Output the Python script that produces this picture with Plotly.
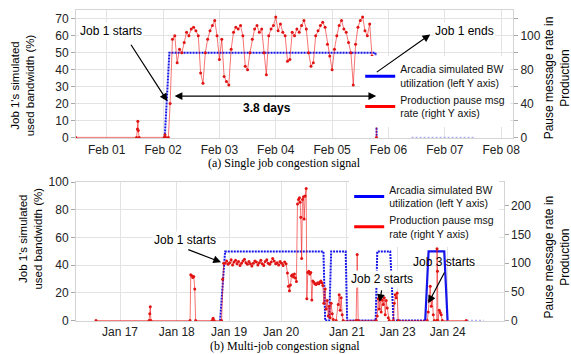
import numpy as np
import plotly.graph_objects as go

FONT = "Liberation Sans, Arial, sans-serif"
SERIF = "Liberation Serif, Times New Roman, serif"

# ---------------- Panel (a): single job (x = day of February) ----------------
a_tick_vals = [1, 2, 3, 4, 5, 6, 7, 8]
a_tick_text = ["Feb 01", "Feb 02", "Feb 03", "Feb 04", "Feb 05", "Feb 06", "Feb 07", "Feb 08"]
a_left_ticks = [0, 10, 20, 30, 40, 50, 60, 70]
a_right_text = ["0", "", "40", "", "80", "", "100", ""]

# production pause message rate (drawn against the left-axis scale)
a_red_pre_x = [0.45, 1.53, 1.545, 1.553, 1.56, 1.575, 2.02, 2.035, 2.05, 2.094]
a_red_pre_y = [0, 0, 5, 9.5, 4, 0, 0, 1.5, 0, 0]
a_red_start = 2.125  # Feb 02 03:00, hourly samples
a_red_hourly = [20, 58, 60, 44, 52, 50, 56, 62, 60, 64, 65, 63, 60, 38, 32, 50, 58, 63, 66, 69,
                60, 46, 58, 36, 33, 31, 52, 62, 65, 64, 66, 60, 42, 40, 50, 58, 64, 66, 62, 64,
                50, 37, 60, 64, 66, 71, 63, 67, 62, 60, 45, 46, 62, 60, 64, 62, 66, 69, 64, 50,
                42, 44, 60, 63, 66, 68, 65, 55, 48, 40, 52, 60, 66, 69, 64, 62, 56, 50, 31, 55,
                65, 69, 71, 63, 60, 67, 48, 38]
a_red_tail_x = [5.78, 5.787]
a_red_tail_y = [21, 0]

# Arcadia simulated BW utilization (%)
a_blue_x = [2.03, 2.066, 2.112, 5.77, 5.778, 5.79]
a_blue_y = [0, 21, 50, 50, 43, 0]
a_blue_idle_x = [6.41, 7.55]
a_blue_idle_y = [0, 0]

# ---------------- Panel (b): multi-job (x = chart day position) ----------------
b_tick_vals = [0, 1.031, 1.982, 2.927, 4.122, 5.045, 5.955]
b_tick_text = ["Jan 17", "Jan 18", "Jan 19", "Jan 20", "Jan 21", "Jan 23", "Jan 24"]
b_left_ticks = [0, 20, 40, 60, 80, 100]
b_right_ticks = [0, 50, 100, 150, 200]

b_red_x = [-0.436, 0.527, 0.54, 0.549, 0.56, 1.273, 1.285, 1.304, 1.322, 1.34, 1.358, 1.373,
           1.673, 1.691, 1.709, 1.845, 1.864, 1.882,
           1.91, 1.937, 1.964, 1.991, 2.018, 2.045, 2.072, 2.099, 2.126, 2.153, 2.18, 2.207,
           2.234, 2.261, 2.288, 2.315, 2.342, 2.369, 2.396, 2.423, 2.45, 2.477, 2.504, 2.531,
           2.558, 2.585, 2.612, 2.639, 2.666, 2.693, 2.72, 2.747, 2.774, 2.801, 2.828, 2.855,
           2.882, 2.909, 2.936, 2.963, 2.99, 3.017,
           3.042, 3.06, 3.078, 3.096, 3.115, 3.133, 3.151, 3.169, 3.187, 3.205,
           3.224, 3.242, 3.26, 3.273, 3.285, 3.3, 3.315, 3.333, 3.345, 3.364, 3.382, 3.394,
           3.412, 3.43, 3.448, 3.466, 3.485, 3.503, 3.521, 3.54, 3.558, 3.576, 3.594, 3.612,
           3.63, 3.648, 3.667, 3.685, 3.703,
           3.727, 3.745, 3.764, 3.782, 3.8, 3.818, 3.836, 3.855, 3.873, 3.927,
           3.964, 3.982, 4.0, 4.018, 4.036, 4.055, 4.29, 4.309, 4.327,
           4.655, 4.673, 4.691, 4.709, 4.727, 4.745, 4.764, 4.782, 4.8, 4.818, 4.836, 4.855,
           4.873, 4.891, 4.964, 4.982, 5.0, 5.018, 5.036, 5.055,
           5.582, 5.6, 5.618, 5.636, 5.655, 5.673, 5.691, 5.709, 5.755, 5.76, 5.768, 5.776,
           5.8, 5.818, 5.836, 5.855, 6.29]
b_red_y = [0, 0, 12, 24, 0, 0, 80, 78, 75, 77, 55, 0,
           0, 4, 0, 0, 72, 100,
           100, 104, 98, 101, 106, 97, 102, 105, 99, 103, 96, 100,
           104, 107, 101, 98, 103, 99, 95, 100, 104, 102, 97, 101,
           105, 99, 96, 103, 106, 100, 98, 102, 108, 104, 99, 101,
           97, 103, 100, 96, 102, 99,
           83, 60, 52, 62, 78, 80, 76, 81, 74, 68,
           203, 211, 214, 206, 180, 108, 211, 216, 177, 217, 230, 38,
           84, 86, 81, 84, 36, 69, 67, 64, 63, 64, 66, 64,
           67, 69, 66, 61, 30,
           55, 20, 35, 8, 25, 5, 30, 12, 2, 0,
           28, 45, 18, 40, 10, 0, 0, 115, 0,
           0, 8, 38, 20, 42, 15, 36, 28, 40, 10, 35, 22,
           5, 0, 0, 30, 45, 40, 48, 0,
           0, 15, 35, 60, 25, 40, 10, 0, 0, 125, 86, 0,
           18, 14, 10, 0, 0]

b_blue_x = [1.818, 1.909, 3.696, 3.727, 3.8, 3.836, 4.1, 4.127, 4.645, 4.673, 4.909, 4.969, 5.545]
b_blue_y = [0, 50, 50, 0, 0, 50, 50, 0, 0, 50, 50, 0, 0]
b_blue_job3_x = [5.545, 5.606, 5.891, 5.951]
b_blue_job3_y = [0, 50, 50, 0]
b_blue_idle_x = [6.304, 6.605]
b_blue_idle_y = [0, 0]

# ---------------- geometry ----------------
W, H = 571, 354
ML, MR, MT, MB = 76, 58.3, 3, 33.3
PW = W - ML - MR
PH = H - MT - MB


def px_x(px):
    return (px - ML) / PW


def px_y(py):
    return (H - MB - py) / PH


GRID = "#e3e3e3"
AXLINE = "#d4d4d4"
BLUE = "rgb(20,20,235)"
RED_LINE = "rgba(240,0,0,0.55)"
RED_MARK = "rgb(225,20,20)"

fig = go.Figure()

# panel (a)
a_red_x = a_red_pre_x + list(a_red_start + np.arange(len(a_red_hourly)) / 24.0) + a_red_tail_x
a_red_y = a_red_pre_y + a_red_hourly + a_red_tail_y

fig.add_trace(go.Scatter(x=a_blue_x, y=a_blue_y, xaxis="x", yaxis="y", mode="lines",
                         line=dict(color=BLUE, width=2, dash="2px,1px"), showlegend=False))
fig.add_trace(go.Scatter(x=a_blue_idle_x, y=a_blue_idle_y, xaxis="x", yaxis="y", mode="lines",
                         line=dict(color="rgba(110,110,240,0.55)", width=1.5, dash="2px,2px"),
                         showlegend=False))
fig.add_trace(go.Scatter(x=a_red_x, y=a_red_y, xaxis="x", yaxis="y2", mode="lines+markers",
                         line=dict(color=RED_LINE, width=1),
                         marker=dict(size=3, color=RED_MARK), showlegend=False))

# panel (b)
fig.add_trace(go.Scatter(x=b_blue_x, y=b_blue_y, xaxis="x2", yaxis="y3", mode="lines",
                         line=dict(color=BLUE, width=2, dash="2px,1px"), showlegend=False))
fig.add_trace(go.Scatter(x=b_blue_job3_x, y=b_blue_job3_y, xaxis="x2", yaxis="y3", mode="lines",
                         line=dict(color=BLUE, width=2.2), showlegend=False))
fig.add_trace(go.Scatter(x=b_blue_idle_x, y=b_blue_idle_y, xaxis="x2", yaxis="y3", mode="lines",
                         line=dict(color="rgba(110,110,240,0.55)", width=1.5, dash="2px,2px"),
                         showlegend=False))
fig.add_trace(go.Scatter(x=b_red_x, y=b_red_y, xaxis="x2", yaxis="y4", mode="lines+markers",
                         line=dict(color=RED_LINE, width=1),
                         marker=dict(size=3, color=RED_MARK), showlegend=False))

# legend entries
blue_name = "Arcadia simulated BW<br>utilization (left Y axis)"
red_name = "Production pause msg<br>rate (right Y axis)"
for lg, ax, ay in [("legend", "x", "y"), ("legend2", "x2", "y3")]:
    fig.add_trace(go.Scatter(x=[None], y=[None], xaxis=ax, yaxis=ay, mode="lines",
                             line=dict(color="rgb(0,0,255)", width=3), name=blue_name, legend=lg))
    fig.add_trace(go.Scatter(x=[None], y=[None], xaxis=ax, yaxis=ay, mode="lines",
                             line=dict(color="rgb(255,0,0)", width=3), name=red_name, legend=lg))

tickfont = dict(family=FONT, size=12, color="#222")
common_x = dict(showgrid=True, gridcolor=GRID, zeroline=False, showline=True, linecolor=AXLINE,
                mirror=True, tickmode="array", tickfont=tickfont, ticks="")
common_y = dict(showgrid=True, gridcolor=GRID, zeroline=False, showline=True, linecolor=AXLINE,
                mirror=True, tickmode="array", tickfont=tickfont, ticks="outside", ticklen=4,
                tickcolor="#aaa")
right_y = dict(showgrid=False, zeroline=False, showline=False, tickmode="array", tickfont=tickfont,
               ticks="outside", ticklen=4, tickcolor="#aaa", side="right")

legend_font = dict(family=FONT, size=10.5, color="#111")
fig.update_layout(
    width=W, height=H, margin=dict(l=ML, r=MR, t=MT, b=MB),
    paper_bgcolor="white", plot_bgcolor="white",
    font=dict(family=FONT, size=12, color="#111"),
    xaxis=dict(domain=[0, 1], anchor="y", range=[0.455, 8.21], tickvals=a_tick_vals,
               ticktext=a_tick_text, **common_x),
    yaxis=dict(domain=[px_y(134), 1], anchor="x", range=[-0.5, 75.2], tickvals=a_left_ticks,
               **common_y),
    yaxis2=dict(overlaying="y", anchor="x", range=[-0.5, 75.2], tickvals=a_left_ticks,
                ticktext=a_right_text, **right_y),
    xaxis2=dict(domain=[0, px_x(503.3)], anchor="y3", range=[-0.8, 6.969], tickvals=b_tick_vals,
                ticktext=b_tick_text, **common_x),
    yaxis3=dict(domain=[0, px_y(179)], anchor="x2", range=[-0.3, 100], tickvals=b_left_ticks,
                **common_y),
    yaxis4=dict(overlaying="y3", anchor="x2", range=[-0.723, 241], tickvals=b_right_ticks,
                **right_y),
    legend=dict(x=px_x(360), y=px_y(50), xanchor="left", yanchor="top", bgcolor="white",
                borderwidth=0, font=legend_font),
    legend2=dict(x=px_x(349), y=px_y(173), xanchor="left", yanchor="top", bgcolor="white",
                 borderwidth=0, font=legend_font),
)

ann = []


def arrow(xr, yr, x, y, ax, ay, **kw):
    d = dict(xref=xr, yref=yr, x=x, y=y, ax=ax, ay=ay, axref=xr, ayref=yr, text="",
             showarrow=True, arrowhead=2, arrowsize=1.3, arrowwidth=1.2, arrowcolor="black")
    d.update(kw)
    return d


def label(xr, yr, x, y, text, bg="white", **kw):
    d = dict(xref=xr, yref=yr, x=x, y=y, text=text, showarrow=False, bgcolor=bg,
             xanchor="center", yanchor="middle",
             font=dict(family=FONT, size=12, color="black"), borderpad=1)
    d.update(kw)
    return d


# panel (a) annotations
ann.append(label("x", "y", 1.076, 63.1, "Job 1 starts"))
ann.append(arrow("x", "y", 2.076, 21.4, 1.414, 55.6))
ann.append(arrow("x", "y", 5.783, 24.4, 2.178, 24.4, arrowside="end+start", startarrowhead=2,
                 startarrowsize=1.3))
ann.append(label("x", "y", 3.842, 17.2, "<b>3.8 days</b>"))
ann.append(label("x", "y", 7.346, 63.1, "Job 1 ends"))
ann.append(arrow("x", "y", 6.742, 60.8, 5.766, 37.9))

# panel (b) annotations
ann.append(label("x2", "y3", 1.182, 58.4, "Job 1 starts"))
ann.append(arrow("x2", "y3", 1.836, 42.2, 1.213, 51.7))
ann.append(label("x2", "y3", 4.758, 30.4, "Job 2 starts"))
ann.append(arrow("x2", "y3", 4.715, 13.4, 4.758, 22.9))
ann.append(label("x2", "y3", 5.891, 42.2, "Job 3 starts", bg="rgba(0,0,0,0)"))
ann.append(arrow("x2", "y3", 5.6, 12.5, 5.909, 35.8))

# axis titles
left_title = "Job 1's simulated<br>used bandwidth (%)"
right_title = "Pause message rate in<br>Production"
for x_px, y_px, txt, size in [(22, 80, left_title, 11.5), (30.5, 236, left_title, 11.5),
                              (556.5, 72, right_title, 12), (556.5, 255, right_title, 12)]:
    ann.append(dict(xref="paper", yref="paper", x=px_x(x_px), y=px_y(y_px), text=txt,
                    textangle=-90, showarrow=False, xanchor="center", yanchor="middle",
                    font=dict(family=FONT, size=size, color="black")))

# captions
ann.append(dict(xref="paper", yref="paper", x=px_x(284), y=px_y(159),
                text="(a) Single job congestion signal", showarrow=False,
                xanchor="center", yanchor="middle",
                font=dict(family=SERIF, size=12, color="black")))
ann.append(dict(xref="paper", yref="paper", x=px_x(284.5), y=px_y(346),
                text="(b) Multi-job congestion signal", showarrow=False,
                xanchor="center", yanchor="middle",
                font=dict(family=SERIF, size=12, color="black")))

fig.update_layout(annotations=ann)
fig.write_html("out.html", config={"displayModeBar": False},
               post_script="document.body.style.margin='0';")
